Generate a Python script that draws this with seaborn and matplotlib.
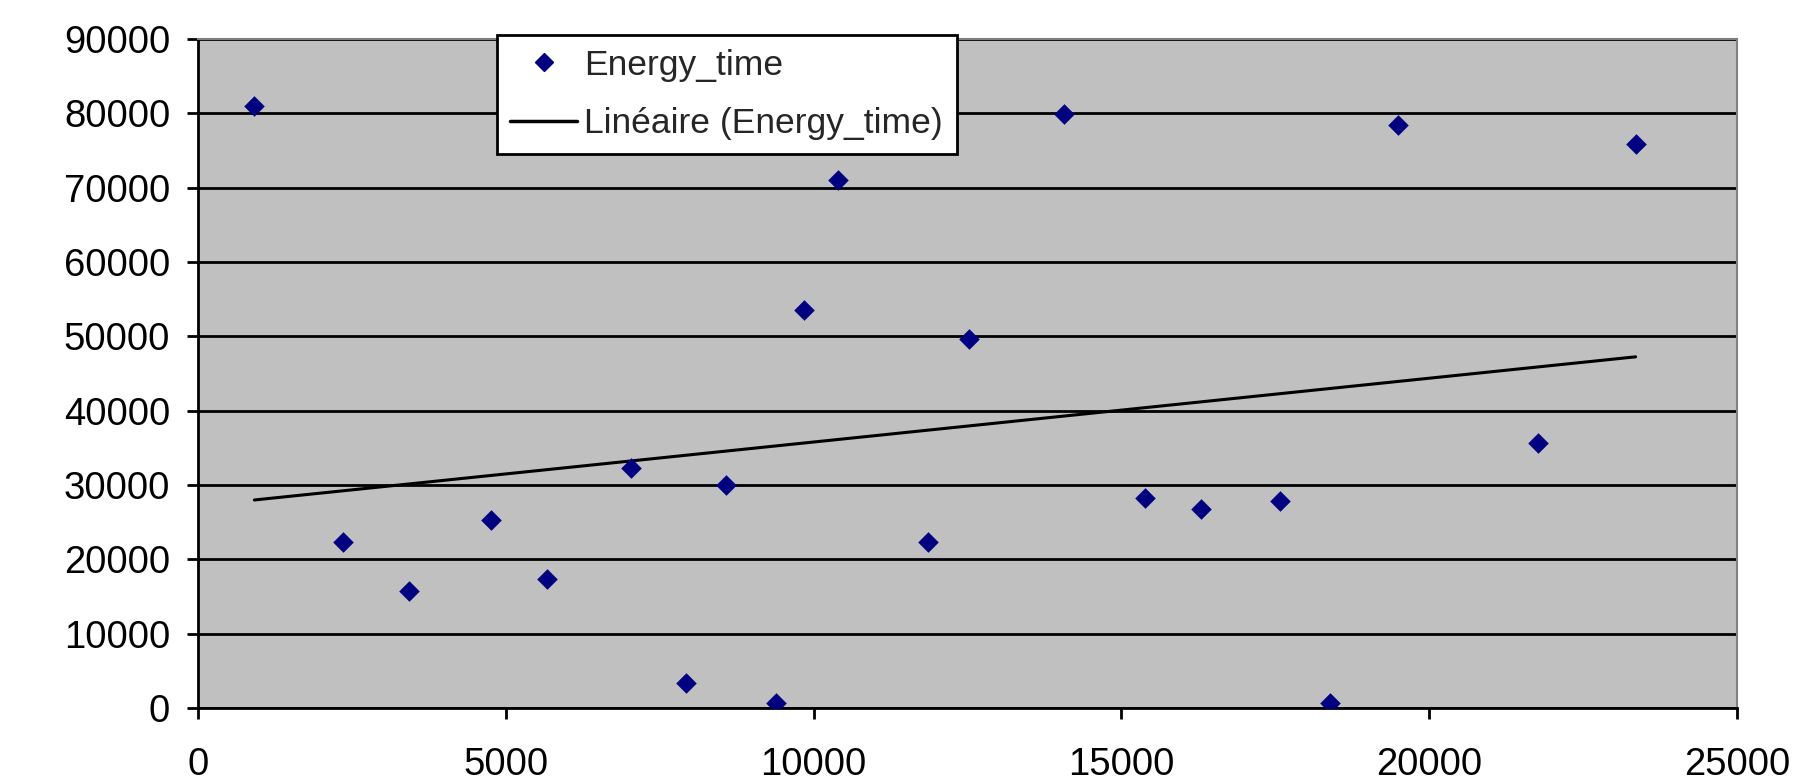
import numpy as np
import pandas as pd
import matplotlib
matplotlib.use("Agg")
import matplotlib.pyplot as plt
import seaborn as sns
from matplotlib.lines import Line2D

x_values = [917, 2358, 3424, 4753, 5670, 7036, 7934, 8570, 9394, 9843, 10404,
            11864, 12519, 14072, 15382, 16299, 17571, 18395, 19499, 21763, 23353]
y_values = [81000, 22400, 15800, 25300, 17400, 32300, 3300, 30000, 700, 53500, 71100,
            22400, 49600, 79900, 28300, 26800, 27800, 700, 78400, 35600, 75900]
series_name = "Energy_time"
trend_name = "Linéaire (Energy_time)"
x_ticks = [0, 5000, 10000, 15000, 20000, 25000]
y_ticks = [0, 10000, 20000, 30000, 40000, 50000, 60000, 70000, 80000, 90000]

df = pd.DataFrame({"x": x_values, "y": y_values})

sns.set_style("white")
plt.rcParams["font.family"] = ["Liberation Sans", "DejaVu Sans"]

fig = plt.figure(figsize=(18.06, 7.82), dpi=100)
ax = fig.add_axes([0.1096, 0.0946, 0.9618 - 0.1096, 0.950 - 0.0946])
ax.set_facecolor("#c0c0c0")

ax.set_xlim(0, 25000)
ax.set_ylim(0, 90000)
ax.set_xticks(x_ticks)
ax.set_yticks(y_ticks)
ax.yaxis.grid(True, color="black", linewidth=2.0)
ax.xaxis.grid(False)
ax.set_axisbelow(True)

sns.regplot(data=df, x="x", y="y", scatter=False, ci=None, truncate=True,
            line_kws={"color": "black", "linewidth": 2.2}, ax=ax)
sns.scatterplot(data=df, x="x", y="y", marker="D", s=110, color="#000080",
                edgecolor="#000080", linewidth=0, ax=ax, zorder=5, legend=False)

ax.set_xlabel("")
ax.set_ylabel("")

for side in ["top", "right"]:
    ax.spines[side].set_color("#808080")
    ax.spines[side].set_linewidth(1.5)
for side in ["left", "bottom"]:
    ax.spines[side].set_color("black")
    ax.spines[side].set_linewidth(2.0)

ax.tick_params(axis="both", which="major", direction="out", length=8, width=2,
               color="black", labelsize=27.5, labelcolor="black")
ax.tick_params(axis="x", pad=20, bottom=True)
ax.tick_params(axis="y", pad=12, left=True)

handles = [
    Line2D([], [], marker="D", linestyle="none", color="#000080", markersize=9),
    Line2D([], [], color="black", linewidth=2.5),
]
leg = ax.legend(handles, [series_name, trend_name], loc="upper left",
                bbox_to_anchor=(0.194, 1.006), fontsize=25.5, frameon=True,
                fancybox=False, framealpha=1, edgecolor="black",
                handlelength=1.9, handletextpad=0.2, borderpad=0.38,
                borderaxespad=0, labelspacing=0.72)
leg.get_frame().set_linewidth(2)

fig.savefig("out.png", dpi=100, facecolor="white")
